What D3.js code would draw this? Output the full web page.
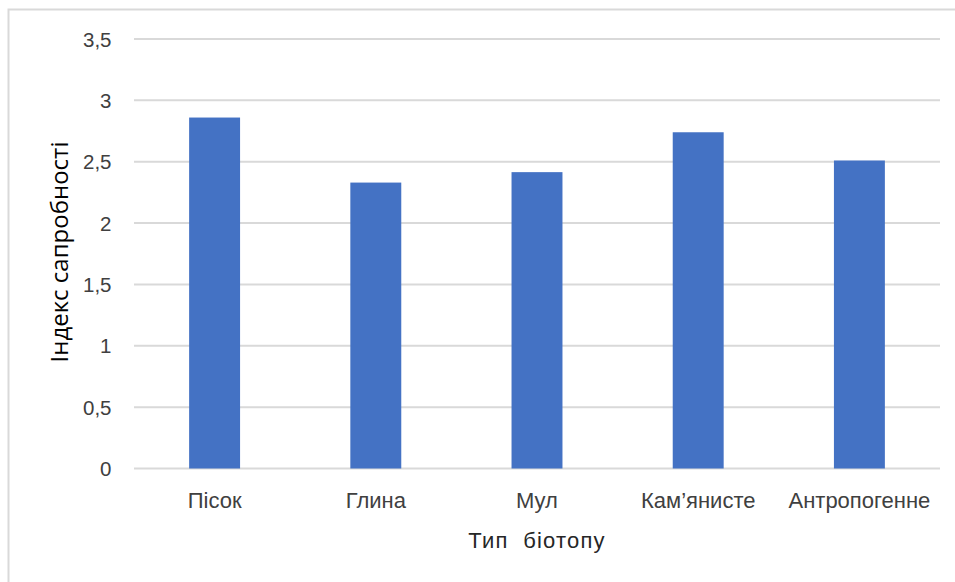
<!DOCTYPE html>
<html>
<head>
<meta charset="utf-8">
<script src="https://cdn.jsdelivr.net/npm/d3@7"></script>
<style>
  html, body { margin: 0; padding: 0; background: #fff; }
  svg { display: block; }
</style>
</head>
<body>
<svg id="chart" width="955" height="582"></svg>
<script>
// Saprobity index by biotope type
const categories = ["Пісок", "Глина", "Мул", "Кам’янисте", "Антропогенне"];
const values = [2.86, 2.33, 2.415, 2.74, 2.51];
const yTicks = [0, 0.5, 1, 1.5, 2, 2.5, 3, 3.5];
const yTickLabels = ["0", "0,5", "1", "1,5", "2", "2,5", "3", "3,5"];

const svg = d3.select("#chart");
const W = 955, H = 582;
const plot = { left: 134, right: 940, top: 39, bottom: 468.5 };
const FONT = "'Liberation Sans', Arial, sans-serif";

// chart frame
svg.append("rect")
  .attr("x", 8.5).attr("y", 9.5)
  .attr("width", W + 20).attr("height", H + 20)
  .attr("fill", "#fff")
  .attr("stroke", "#d9d9d9").attr("stroke-width", 2);

const x = d3.scaleBand().domain(categories).range([plot.left, plot.right]).padding(0);
const y = d3.scaleLinear().domain([0, 3.5]).range([plot.bottom, plot.top]);

// horizontal gridlines
svg.append("g").selectAll("line").data(yTicks).join("line")
  .attr("x1", plot.left).attr("x2", plot.right)
  .attr("y1", d => y(d)).attr("y2", d => y(d))
  .attr("stroke", "#d9d9d9").attr("stroke-width", 2);

// y tick labels
const yAxis = d3.axisLeft(y).tickValues(yTicks)
  .tickFormat((d, i) => yTickLabels[i]).tickSize(0).tickPadding(0);
const gy = svg.append("g").attr("transform", `translate(111.5,0)`).call(yAxis);
gy.select(".domain").remove();
gy.selectAll("text")
  .attr("font-family", FONT)
  .attr("font-size", 20.5).attr("fill", "#404040").attr("dy", "0.35em");

// bars
const barW = x.bandwidth() * 0.316;
svg.append("g").selectAll("rect").data(values).join("rect")
  .attr("x", (d, i) => x(categories[i]) + (x.bandwidth() - barW) / 2)
  .attr("y", d => y(d))
  .attr("width", barW)
  .attr("height", d => y(0) - y(d))
  .attr("fill", "#4472c4");

// category labels
const xAxis = d3.axisBottom(x).tickSize(0).tickPadding(0);
const gx = svg.append("g").attr("transform", `translate(0,${plot.bottom})`).call(xAxis);
gx.select(".domain").remove();
gx.selectAll("text")
  .attr("font-family", FONT)
  .attr("font-size", 22).attr("fill", "#404040").attr("y", 32).attr("dy", "0.35em");

// axis titles
svg.append("text")
  .attr("x", 537).attr("y", 540).attr("dy", "0.35em")
  .attr("text-anchor", "middle")
  .attr("font-family", FONT)
  .attr("font-size", 22).attr("fill", "#262626")
  .attr("letter-spacing", 1.2)
  .attr("xml:space", "preserve")
  .text("Тип  біотопу");

svg.append("text")
  .attr("transform", "translate(60,252) rotate(-90)")
  .attr("dy", "0.35em")
  .attr("text-anchor", "middle")
  .attr("font-family", "'Open Sans', sans-serif")
  .attr("font-size", 24).attr("fill", "#000")
  .text("Індекс сапробності");
</script>
</body>
</html>
